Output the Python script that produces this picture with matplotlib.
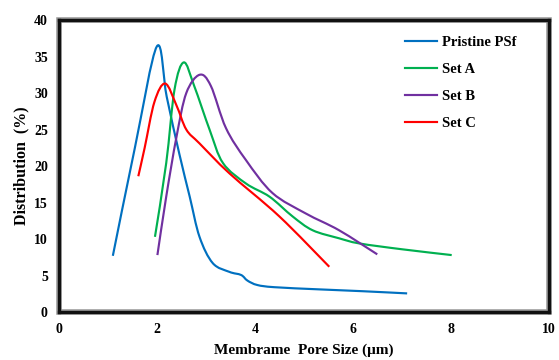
import matplotlib
matplotlib.use("Agg")
import matplotlib.pyplot as plt
from matplotlib.patches import Rectangle, PathPatch
from matplotlib.path import Path
from matplotlib.lines import Line2D

plt.rcParams['font.family'] = ['Liberation Serif', 'DejaVu Serif']
plt.rcParams['font.weight'] = 'bold'

# Data
pristine_x = [1.1, 1.55, 2.0, 2.2, 2.46, 2.67, 2.87, 3.14, 3.48, 3.72, 3.85, 4.05, 4.4, 5.32, 6.2, 7.11]
pristine_y = [7.7, 22.5, 36.4, 29.5, 21.6, 15.8, 10.3, 6.7, 5.5, 5.07, 4.3, 3.7, 3.4, 3.1, 2.85, 2.55]

setA_x = [1.96, 2.19, 2.36, 2.55, 2.76, 3.08, 3.35, 3.82, 4.3, 4.77, 5.18, 5.72, 6.13, 7.0, 8.02]
setA_y = [10.3, 20.4, 30.5, 34.2, 31.0, 24.9, 20.4, 17.6, 15.8, 13.1, 11.2, 10.1, 9.4, 8.6, 7.8]

setB_x = [2.01, 2.19, 2.4, 2.6, 2.87, 3.1, 3.41, 3.82, 4.36, 5.04, 5.72, 6.5]
setB_y = [7.8, 15.8, 24.0, 30.0, 32.5, 31.0, 25.2, 20.8, 16.3, 13.5, 11.2, 7.9]

setC_x = [1.62, 1.75, 1.95, 2.17, 2.4, 2.6, 2.87, 3.48, 4.5, 5.52]
setC_y = [18.6, 22.5, 28.8, 31.3, 28.3, 25.0, 23.1, 19.0, 13.1, 6.2]

labels = ['Pristine PSf', 'Set A', 'Set B', 'Set C']
colors = ['#0070C0', '#00B050', '#7030A0', '#FF0000']

x_ticks = [0, 2, 4, 6, 8, 10]
y_ticks = [0, 5, 10, 15, 20, 25, 30, 35, 40]


def smooth_path(xs, ys):
    """Excel-style smoothed line: cubic Bezier segments through the points."""
    pts = list(zip(xs, ys))
    n = len(pts)
    verts = [pts[0]]
    codes = [Path.MOVETO]
    for i in range(n - 1):
        p0 = pts[i - 1] if i > 0 else pts[i]
        p1 = pts[i]
        p2 = pts[i + 1]
        p3 = pts[i + 2] if i + 2 < n else pts[i + 1]
        c1 = (p1[0] + (p2[0] - p0[0]) / 6.0, p1[1] + (p2[1] - p0[1]) / 6.0)
        c2 = (p2[0] - (p3[0] - p1[0]) / 6.0, p2[1] - (p3[1] - p1[1]) / 6.0)
        verts += [c1, c2, p2]
        codes += [Path.CURVE4] * 3
    return Path(verts, codes)


fig = plt.figure(figsize=(5.59, 3.6), dpi=100)
ax = fig.add_axes([0.1055, 0.1333, 0.876, 0.811])

handles = []
for (xs, ys), lab, c in zip([(pristine_x, pristine_y), (setA_x, setA_y),
                             (setB_x, setB_y), (setC_x, setC_y)], labels, colors):
    patch = PathPatch(smooth_path(xs, ys), facecolor='none', edgecolor=c, lw=1.55,
                      joinstyle='round', capstyle='butt')
    ax.add_patch(patch)
    handles.append(Line2D([], [], color=c, lw=1.55, label=lab))

ax.set_xlim(0, 10)
ax.set_ylim(0, 40)
ax.set_xticks(x_ticks)
ax.set_yticks(y_ticks)
ax.tick_params(length=0, labelsize=10, pad=8)
for lbl in ax.get_xticklabels() + ax.get_yticklabels():
    lbl.set_fontweight('bold')

for s in ax.spines.values():
    s.set_linewidth(2.4)
    s.set_color('#111111')

outer = Rectangle((0, 0), 1, 1, transform=ax.transAxes, fill=False,
                  edgecolor='#999999', lw=4.0, zorder=-1, clip_on=False)
ax.add_patch(outer)

ax.set_xlabel('Membrame  Pore Size (μm)', fontsize=11, fontweight='bold', labelpad=5)
ax.set_ylabel('Distribution  (%)', fontsize=11.5, fontweight='bold', labelpad=3)

leg = ax.legend(handles=handles, loc='upper left', bbox_to_anchor=(0.679, 0.99), frameon=False,
                handlelength=2.25, handletextpad=0.3, labelspacing=0.95,
                prop={'weight': 'bold', 'size': 10.5})

fig.savefig('out.png', dpi=100)
